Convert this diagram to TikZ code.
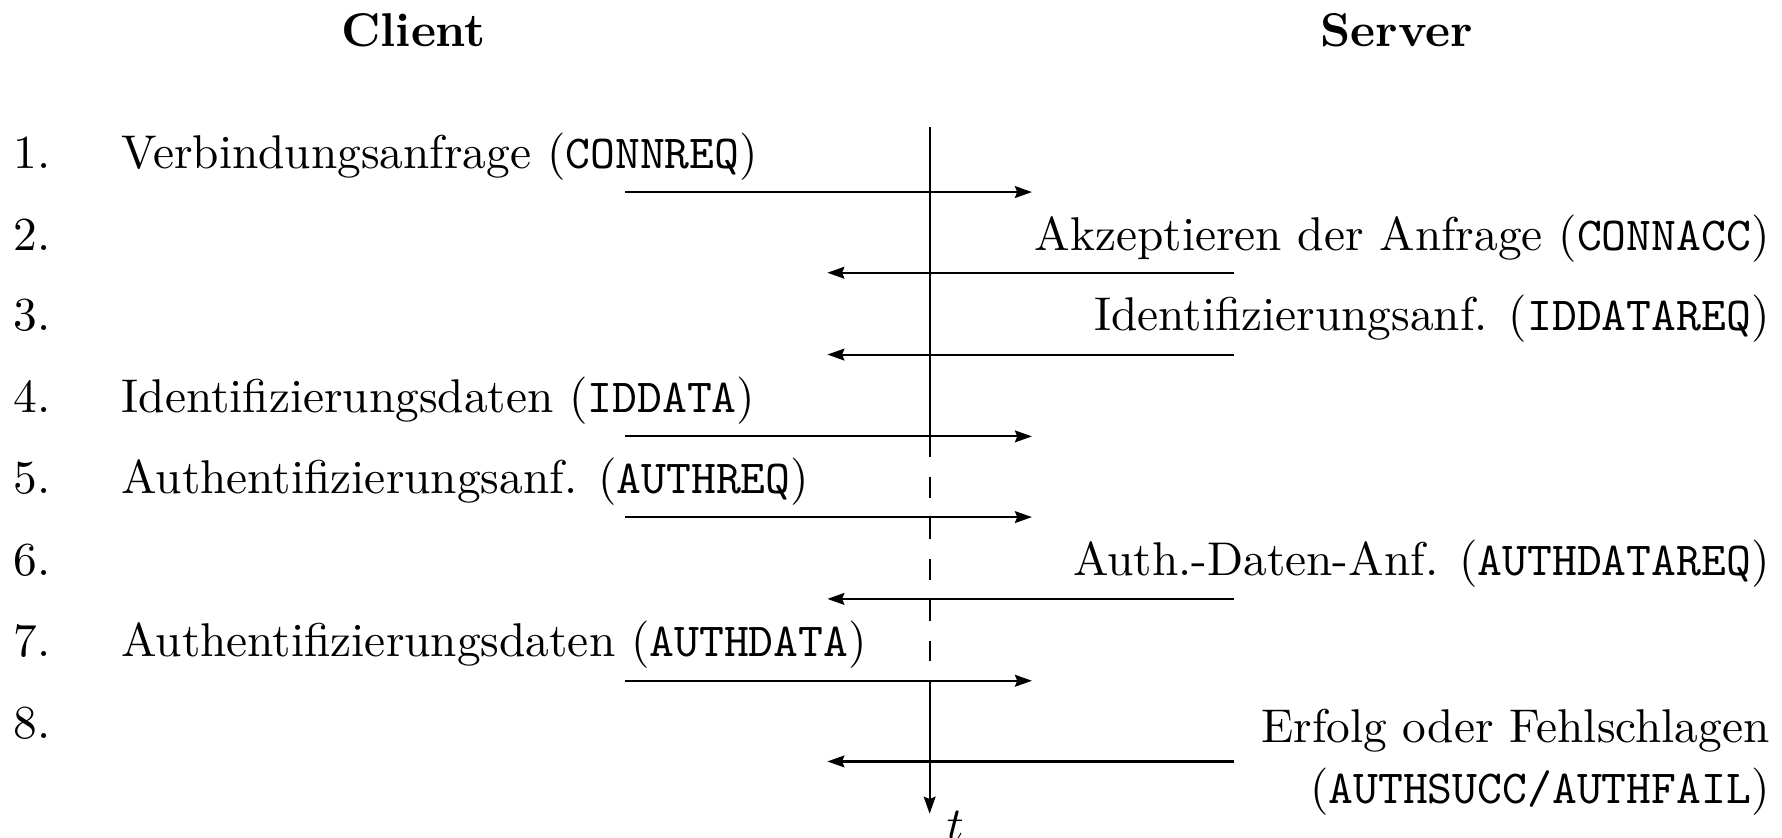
\documentclass[tikz,border=0pt]{standalone}
\usetikzlibrary{arrows.meta}
\begin{document}
\begin{tikzpicture}[x=0.24pt,y=-0.24pt,
  txt/.style={inner sep=0pt,outer sep=0pt,font=\fontsize{10}{12}\selectfont},
  num/.style={txt,anchor=base west},
  lbl/.style={txt,anchor=base west},
  rlbl/.style={txt,anchor=base east,align=right},
  head/.style={txt,anchor=base,font=\fontsize{10}{12}\selectfont\bfseries},
  msg/.style={line width=0.45pt,-{Stealth[length=3.6pt,width=2.5pt,inset=0.5pt]}},
  timeline/.style={line width=0.45pt}
]
\useasboundingbox (0,0) rectangle (1568,737);

% headers
\node[head] (client) at (364,41) {Client};
\node[head] (server) at (1229,41) {Server};

% row numbers
\node[num] (n1) at (12,148) {1.};
\node[num] (n2) at (12,220) {2.};
\node[num] (n3) at (12,291) {3.};
\node[num] (n4) at (12,363) {4.};
\node[num] (n5) at (12,434) {5.};
\node[num] (n6) at (12,506) {6.};
\node[num] (n7) at (12,578) {7.};
\node[num] (n8) at (12,650) {8.};

% labels
\node[lbl] (l1) at (107,148) {Verbindungsanfrage (\texttt{CONNREQ})};
\node[rlbl] (l2) at (1557,220) {Akzeptieren der Anfrage (\texttt{CONNACC})};
\node[rlbl] (l3) at (1557,291) {Identifizierungsanf. (\texttt{IDDATAREQ})};
\node[lbl] (l4) at (107,363) {Identifizierungsdaten (\texttt{IDDATA})};
\node[lbl] (l5) at (107,434) {Authentifizierungsanf. (\texttt{AUTHREQ})};
\node[rlbl] (l6) at (1557,506) {Auth.-Daten-Anf. (\texttt{AUTHDATAREQ})};
\node[lbl] (l7) at (107,578) {Authentifizierungsdaten (\texttt{AUTHDATA})};
\node[rlbl] (l8) at (1557,707) {Erfolg oder Fehlschlagen\\[0.8pt](\texttt{AUTHSUCC/AUTHFAIL})};

% time line
\coordinate (ttop) at (818,112);
\coordinate (dstart) at (818,384);
\coordinate (dend) at (818,599);
\coordinate (tbot) at (818,716);
\draw[timeline] (ttop) -- (dstart);
\draw[timeline,dash pattern=on 4.32pt off 4.32pt] (dstart) -- (dend);
\draw[timeline,-{Stealth[length=3.6pt,width=2.5pt,inset=0.5pt]}] (dend) -- (tbot);
\node[txt,anchor=base west] (tlabel) at (833,740) {$t$};

% messages
\coordinate (c1) at (550,169);  \coordinate (s1) at (908,169);
\coordinate (s2) at (1086,240); \coordinate (c2) at (728,240);
\coordinate (s3) at (1086,312); \coordinate (c3) at (728,312);
\coordinate (c4) at (550,384);  \coordinate (s4) at (908,384);
\coordinate (c5) at (550,455);  \coordinate (s5) at (908,455);
\coordinate (s6) at (1086,527); \coordinate (c6) at (728,527);
\coordinate (c7) at (550,599);  \coordinate (s7) at (908,599);
\coordinate (s8) at (1086,670); \coordinate (c8) at (728,670);

\draw[msg] (c1) -- (s1);
\draw[msg] (s2) -- (c2);
\draw[msg] (s3) -- (c3);
\draw[msg] (c4) -- (s4);
\draw[msg] (c5) -- (s5);
\draw[msg] (s6) -- (c6);
\draw[msg] (c7) -- (s7);
\draw[msg] (s8) -- (c8);
\end{tikzpicture}
\end{document}
